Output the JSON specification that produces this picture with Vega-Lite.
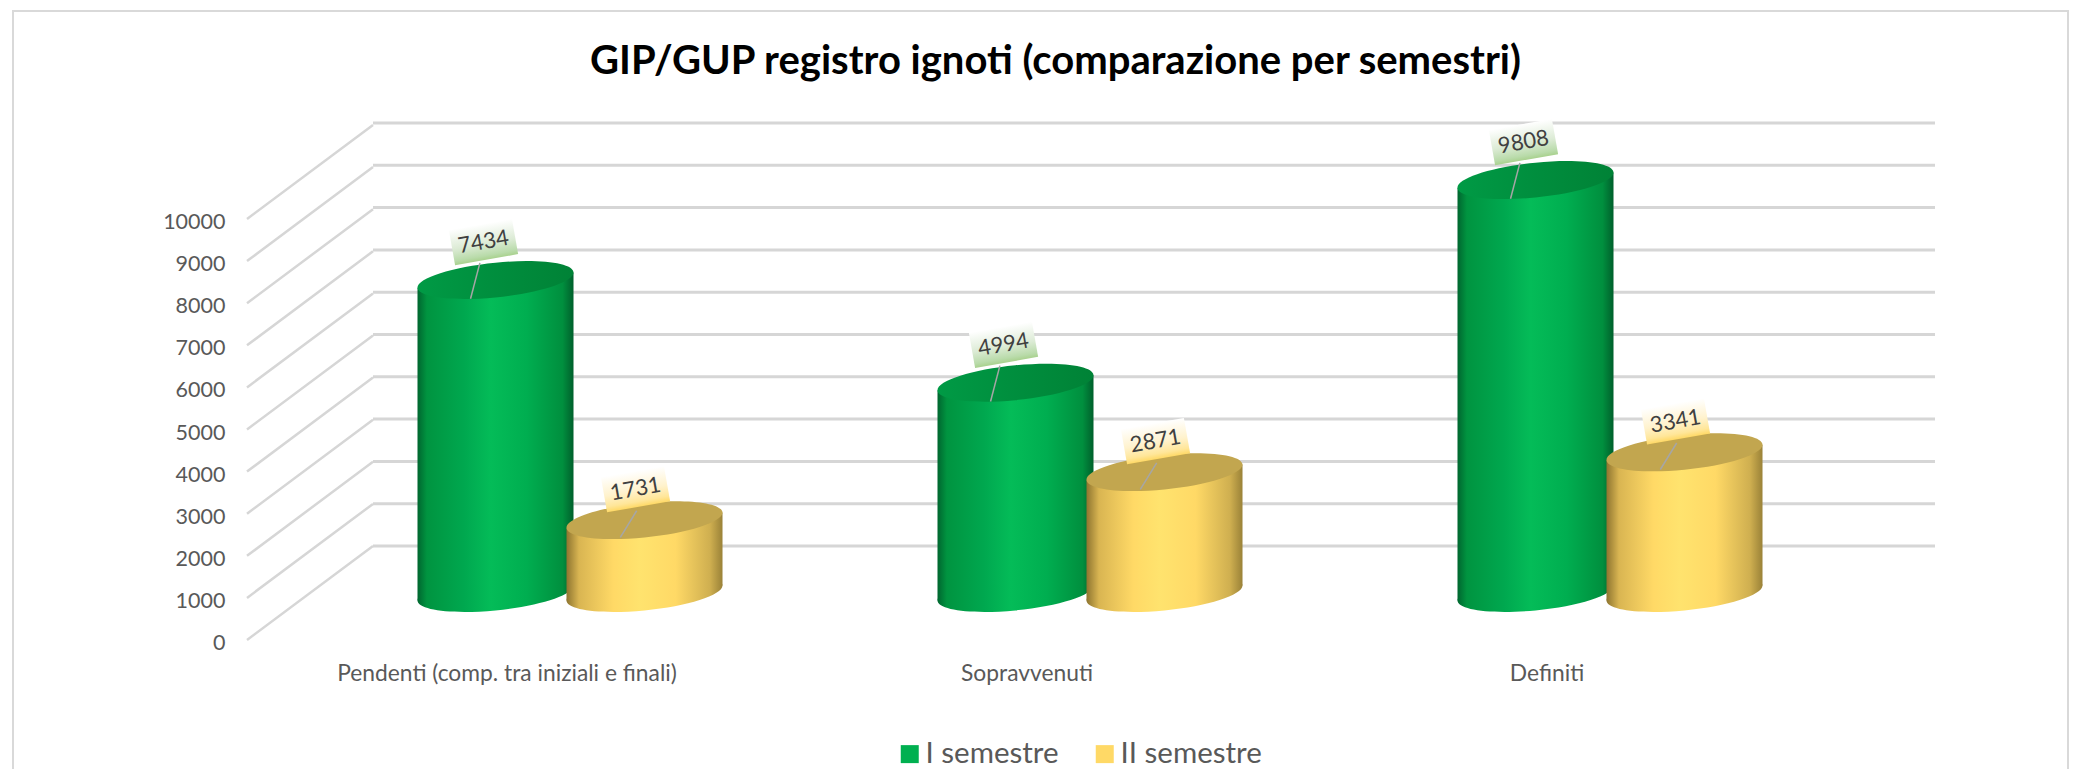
{
"$schema":"https://vega.github.io/schema/vega-lite/v6.json",
"width":2081,"height":769,"autosize":{"type":"none"},"padding":0,"background":"white",
"title":{"text":"GIP/GUP registro ignoti (comparazione per semestri)","font":"Lato","fontSize":40,"fontWeight":"bold","color":"#000000","anchor":"middle","frame":"group","baseline":"middle","offset":0,"dy":102,"dx":15},
"config":{"view":{"stroke":null},"font":"Lato"},
"datasets":{
"rows":[
{"categoria":"Pendenti (comp. tra iniziali e finali)","semestre":"I semestre","valore":7434},
{"categoria":"Pendenti (comp. tra iniziali e finali)","semestre":"II semestre","valore":1731},
{"categoria":"Sopravvenuti","semestre":"I semestre","valore":4994},
{"categoria":"Sopravvenuti","semestre":"II semestre","valore":2871},
{"categoria":"Definiti","semestre":"I semestre","valore":9808},
{"categoria":"Definiti","semestre":"II semestre","valore":3341}],
"ticks":[{"t":0},{"t":1000},{"t":2000},{"t":3000},{"t":4000},{"t":5000},{"t":6000},{"t":7000},{"t":8000},{"t":9000},{"t":10000}],
"frame":[{"frame":"chart"}]
},
"resolve":{"scale":{"x":"independent","y":"independent","color":"independent"}},
"layer":[
{"data":{"name":"frame"},"mark":{"type":"rect","fillOpacity":0,"stroke":"#D9D9D9","strokeWidth":2},
 "encoding":{"x":{"datum":0,"type":"quantitative","scale":{"domain":[0,1],"range":[13,2068]},"axis":null},"x2":{"datum":1},
 "y":{"datum":0,"type":"quantitative","scale":{"domain":[0,1],"range":[800,11]},"axis":null},"y2":{"datum":1}}},
{"data":{"name":"ticks"},"mark":{"type":"rule","color":"#D6D6D6","strokeWidth":3},
 "encoding":{"x":{"datum":0,"type":"quantitative","scale":{"domain":[0,1],"range":[373,1935]},"axis":null},"x2":{"datum":1},
 "y":{"field":"t","type":"quantitative","scale":{"domain":[0,10000],"range":[546,123]},"axis":null}}},
{"data":{"name":"ticks"},"mark":{"type":"point","shape":"M0,0L1,-0.746","size":63504,"filled":false,"opacity":1,"stroke":"#D6D6D6","strokeWidth":2.5},
 "encoding":{"x":{"datum":0,"type":"quantitative","scale":{"domain":[0,1],"range":[247,373]},"axis":null},
 "y":{"field":"t","type":"quantitative","scale":{"domain":[0,10000],"range":[640,219]},"axis":null}}},
{"data":{"name":"rows"},"mark":{"type":"bar","opacity":0,"size":20},
 "encoding":{
 "x":{"field":"categoria","type":"nominal","sort":null,"scale":{"type":"band","domain":["Pendenti (comp. tra iniziali e finali)","Sopravvenuti","Definiti"],"range":[247,1807],"paddingInner":0,"paddingOuter":0},
  "axis":{"title":null,"domain":false,"ticks":false,"labelAngle":0,"labelFont":"Lato","labelFontSize":22.8,"labelColor":"#595959","labelPadding":0,"offset":-96,"labelBaseline":"middle","labelLimit":600}},
 "y":{"field":"valore","type":"quantitative","stack":null,"scale":{"domain":[0,10000],"range":[640,219]},
  "axis":{"title":null,"domain":false,"ticks":false,"grid":false,"values":[0,1000,2000,3000,4000,5000,6000,7000,8000,9000,10000],"format":"d","labelFont":"Lato","labelFontSize":21.5,"labelColor":"#595959","labelPadding":0,"labelOffset":3.5,"offset":-225}},
 "color":{"field":"semestre","type":"nominal","scale":{"domain":["I semestre","II semestre"],"range":["#00B050","#FFD966"]},
  "legend":{"title":null,"orient":"none","legendX":895,"legendY":739,"direction":"horizontal","symbolType":"square","symbolSize":324,"symbolOpacity":1,"symbolStrokeWidth":0,"labelFont":"Lato","labelFontSize":29.5,"labelColor":"#595959","labelOffset":1,"columnPadding":31,"labelLimit":300}}}},

{"data":{"name":"rows"},"transform":[{"filter":"datum.semestre==='I semestre'"}],"mark":{"type":"point","shape":"M1,-0.097C1,0.026 .552,.169 0,.223C-.552,.277 -1,.22 -1,.097C-1,-.026 -.552,-.169 0,-.223C.552,-.277 1,-.22 1,-.097Z","size":24336,"filled":true,"opacity":1,"strokeWidth":0,
 "fill":{"x1":0,"y1":0,"x2":1,"y2":0,"gradient":"linear","stops":[{"offset":0,"color":"#00662F"},{"offset":0.06,"color":"#009440"},{"offset":0.3,"color":"#00A84F"},{"offset":0.47,"color":"#04BC58"},{"offset":0.7,"color":"#00AE50"},{"offset":0.93,"color":"#008F3E"},{"offset":1,"color":"#00602C"}]}},
 "encoding":{"x":{"field":"categoria","type":"nominal","sort":null,"scale":{"type":"band","domain":["Pendenti (comp. tra iniziali e finali)","Sopravvenuti","Definiti"],"range":[235.5,1795.5],"paddingInner":0,"paddingOuter":0},"axis":null},
 "y":{"datum":0,"type":"quantitative","scale":{"domain":[0,10000],"range":[593,172]},"axis":null}}},
{"data":{"name":"rows"},"transform":[{"filter":"datum.semestre==='I semestre'"}],"mark":{"type":"bar","size":105,"xOffset":-25.5,"yOffset":7.6,"y2Offset":7.6,
 "fill":{"x1":0,"y1":0,"x2":1,"y2":0,"gradient":"linear","stops":[{"offset":0,"color":"#00662F"},{"offset":0.089,"color":"#009440"},{"offset":0.446,"color":"#00A84F"},{"offset":0.698,"color":"#04BC58"},{"offset":1,"color":"#00B051"}]}},
 "encoding":{"x":{"field":"categoria","type":"nominal","sort":null,"scale":{"type":"band","domain":["Pendenti (comp. tra iniziali e finali)","Sopravvenuti","Definiti"],"range":[235.5,1795.5],"paddingInner":0,"paddingOuter":0},"axis":null},
 "y":{"field":"valore","type":"quantitative","stack":null,"scale":{"domain":[0,10000],"range":[593,172]},"axis":null},"y2":{"datum":0}}},
{"data":{"name":"rows"},"transform":[{"filter":"datum.semestre==='I semestre'"}],"mark":{"type":"bar","size":105,"xOffset":25.5,"yOffset":-7.6,"y2Offset":-7.6,
 "fill":{"x1":0,"y1":0,"x2":1,"y2":0,"gradient":"linear","stops":[{"offset":0,"color":"#01AB51"},{"offset":0.212,"color":"#04BC58"},{"offset":0.554,"color":"#00AE50"},{"offset":0.896,"color":"#008F3E"},{"offset":1,"color":"#00602C"}]}},
 "encoding":{"x":{"field":"categoria","type":"nominal","sort":null,"scale":{"type":"band","domain":["Pendenti (comp. tra iniziali e finali)","Sopravvenuti","Definiti"],"range":[235.5,1795.5],"paddingInner":0,"paddingOuter":0},"axis":null},
 "y":{"field":"valore","type":"quantitative","stack":null,"scale":{"domain":[0,10000],"range":[593,172]},"axis":null},"y2":{"datum":0}}},
{"data":{"name":"rows"},"transform":[{"filter":"datum.semestre==='I semestre'"}],"mark":{"type":"point","shape":"M1,-0.097C1,0.026 .552,.169 0,.223C-.552,.277 -1,.22 -1,.097C-1,-.026 -.552,-.169 0,-.223C.552,-.277 1,-.22 1,-.097Z","size":24336,"filled":true,"opacity":1,"strokeWidth":0,
 "fill":{"x1":0,"y1":0,"x2":1,"y2":0,"gradient":"linear","stops":[{"offset":0,"color":"#009A45"},{"offset":1,"color":"#008236"}]}},
 "encoding":{"x":{"field":"categoria","type":"nominal","sort":null,"scale":{"type":"band","domain":["Pendenti (comp. tra iniziali e finali)","Sopravvenuti","Definiti"],"range":[235.5,1795.5],"paddingInner":0,"paddingOuter":0},"axis":null},
 "y":{"field":"valore","type":"quantitative","stack":null,"scale":{"domain":[0,10000],"range":[593,172]},"axis":null}}},

{"data":{"name":"rows"},"transform":[{"filter":"datum.semestre==='II semestre'"}],"mark":{"type":"point","shape":"M1,-0.097C1,0.026 .552,.169 0,.223C-.552,.277 -1,.22 -1,.097C-1,-.026 -.552,-.169 0,-.223C.552,-.277 1,-.22 1,-.097Z","size":24336,"filled":true,"opacity":1,"strokeWidth":0,
 "fill":{"x1":0,"y1":0,"x2":1,"y2":0,"gradient":"linear","stops":[{"offset":0,"color":"#8E7530"},{"offset":0.08,"color":"#D9B552"},{"offset":0.3,"color":"#FFD966"},{"offset":0.47,"color":"#FFE36E"},{"offset":0.7,"color":"#FFD966"},{"offset":0.92,"color":"#CFAF50"},{"offset":1,"color":"#9A8238"}]}},
 "encoding":{"x":{"field":"categoria","type":"nominal","sort":null,"scale":{"type":"band","domain":["Pendenti (comp. tra iniziali e finali)","Sopravvenuti","Definiti"],"range":[384.5,1944.5],"paddingInner":0,"paddingOuter":0},"axis":null},
 "y":{"datum":0,"type":"quantitative","scale":{"domain":[0,10000],"range":[593,172]},"axis":null}}},
{"data":{"name":"rows"},"transform":[{"filter":"datum.semestre==='II semestre'"}],"mark":{"type":"bar","size":105,"xOffset":-25.5,"yOffset":7.6,"y2Offset":7.6,
 "fill":{"x1":0,"y1":0,"x2":1,"y2":0,"gradient":"linear","stops":[{"offset":0,"color":"#8E7530"},{"offset":0.119,"color":"#D9B552"},{"offset":0.446,"color":"#FFD966"},{"offset":0.698,"color":"#FFE36E"},{"offset":1,"color":"#FFDA67"}]}},
 "encoding":{"x":{"field":"categoria","type":"nominal","sort":null,"scale":{"type":"band","domain":["Pendenti (comp. tra iniziali e finali)","Sopravvenuti","Definiti"],"range":[384.5,1944.5],"paddingInner":0,"paddingOuter":0},"axis":null},
 "y":{"field":"valore","type":"quantitative","stack":null,"scale":{"domain":[0,10000],"range":[593,172]},"axis":null},"y2":{"datum":0}}},
{"data":{"name":"rows"},"transform":[{"filter":"datum.semestre==='II semestre'"}],"mark":{"type":"bar","size":105,"xOffset":25.5,"yOffset":-7.6,"y2Offset":-7.6,
 "fill":{"x1":0,"y1":0,"x2":1,"y2":0,"gradient":"linear","stops":[{"offset":0,"color":"#FFDB67"},{"offset":0.212,"color":"#FFE36E"},{"offset":0.554,"color":"#FFD966"},{"offset":0.881,"color":"#CFAF50"},{"offset":1,"color":"#9A8238"}]}},
 "encoding":{"x":{"field":"categoria","type":"nominal","sort":null,"scale":{"type":"band","domain":["Pendenti (comp. tra iniziali e finali)","Sopravvenuti","Definiti"],"range":[384.5,1944.5],"paddingInner":0,"paddingOuter":0},"axis":null},
 "y":{"field":"valore","type":"quantitative","stack":null,"scale":{"domain":[0,10000],"range":[593,172]},"axis":null},"y2":{"datum":0}}},
{"data":{"name":"rows"},"transform":[{"filter":"datum.semestre==='II semestre'"}],"mark":{"type":"point","shape":"M1,-0.097C1,0.026 .552,.169 0,.223C-.552,.277 -1,.22 -1,.097C-1,-.026 -.552,-.169 0,-.223C.552,-.277 1,-.22 1,-.097Z","size":24336,"filled":true,"opacity":1,"strokeWidth":0,"fill":"#C2A64F"},
 "encoding":{"x":{"field":"categoria","type":"nominal","sort":null,"scale":{"type":"band","domain":["Pendenti (comp. tra iniziali e finali)","Sopravvenuti","Definiti"],"range":[384.5,1944.5],"paddingInner":0,"paddingOuter":0},"axis":null},
 "y":{"field":"valore","type":"quantitative","stack":null,"scale":{"domain":[0,10000],"range":[593,172]},"axis":null}}},

{"data":{"name":"rows"},"transform":[{"filter":"datum.semestre==='I semestre'"}],"mark":{"type":"point","shape":"M-0.2,-0.22L-0.32,0.24","size":24336,"filled":false,"opacity":1,"stroke":"#A6A6A6","strokeWidth":1.5},
 "encoding":{"x":{"field":"categoria","type":"nominal","sort":null,"scale":{"type":"band","domain":["Pendenti (comp. tra iniziali e finali)","Sopravvenuti","Definiti"],"range":[235.5,1795.5],"paddingInner":0,"paddingOuter":0},"axis":null},
 "y":{"field":"valore","type":"quantitative","stack":null,"scale":{"domain":[0,10000],"range":[593,172]},"axis":null}}},
{"data":{"name":"rows"},"transform":[{"filter":"datum.semestre==='I semestre'"}],"mark":{"type":"point","shape":"M-1,-0.56L1,-0.56L1,0.56L-1,0.56Z","size":4096,"angle":-10,"filled":true,"opacity":1,"strokeWidth":0,"xOffset":-12,"yOffset":-38,
 "fill":{"x1":0,"y1":0,"x2":0,"y2":1,"gradient":"linear","stops":[{"offset":0,"color":"#FFFFFF"},{"offset":0.55,"color":"#DCEBD5"},{"offset":0.88,"color":"#B9DBAA"},{"offset":1,"color":"#A9D18E"}]}},
 "encoding":{"x":{"field":"categoria","type":"nominal","sort":null,"scale":{"type":"band","domain":["Pendenti (comp. tra iniziali e finali)","Sopravvenuti","Definiti"],"range":[235.5,1795.5],"paddingInner":0,"paddingOuter":0},"axis":null},
 "y":{"field":"valore","type":"quantitative","stack":null,"scale":{"domain":[0,10000],"range":[593,172]},"axis":null}}},
{"data":{"name":"rows"},"transform":[{"filter":"datum.semestre==='I semestre'"}],"mark":{"type":"text","font":"Lato","fontSize":22,"angle":-10,"color":"#404040","xOffset":-12,"yOffset":-38,"baseline":"middle","align":"center"},
 "encoding":{"x":{"field":"categoria","type":"nominal","sort":null,"scale":{"type":"band","domain":["Pendenti (comp. tra iniziali e finali)","Sopravvenuti","Definiti"],"range":[235.5,1795.5],"paddingInner":0,"paddingOuter":0},"axis":null},
 "y":{"field":"valore","type":"quantitative","stack":null,"scale":{"domain":[0,10000],"range":[593,172]},"axis":null},
 "text":{"field":"valore","type":"quantitative","format":"d"}}},
{"data":{"name":"rows"},"transform":[{"filter":"datum.semestre==='II semestre'"}],"mark":{"type":"point","shape":"M-0.1,-0.12L-0.31,0.22","size":24336,"filled":false,"opacity":1,"stroke":"#A6A6A6","strokeWidth":1.5},
 "encoding":{"x":{"field":"categoria","type":"nominal","sort":null,"scale":{"type":"band","domain":["Pendenti (comp. tra iniziali e finali)","Sopravvenuti","Definiti"],"range":[384.5,1944.5],"paddingInner":0,"paddingOuter":0},"axis":null},
 "y":{"field":"valore","type":"quantitative","stack":null,"scale":{"domain":[0,10000],"range":[593,172]},"axis":null}}},
{"data":{"name":"rows"},"transform":[{"filter":"datum.semestre==='II semestre'"}],"mark":{"type":"point","shape":"M-1,-0.56L1,-0.56L1,0.56L-1,0.56Z","size":4096,"angle":-10,"filled":true,"opacity":1,"strokeWidth":0,"xOffset":-9,"yOffset":-31,
 "fill":{"x1":0,"y1":0,"x2":0,"y2":1,"gradient":"linear","stops":[{"offset":0,"color":"#FFFFFF"},{"offset":0.55,"color":"#FFF2CC"},{"offset":0.85,"color":"#FFE699"},{"offset":1,"color":"#FFD966"}]}},
 "encoding":{"x":{"field":"categoria","type":"nominal","sort":null,"scale":{"type":"band","domain":["Pendenti (comp. tra iniziali e finali)","Sopravvenuti","Definiti"],"range":[384.5,1944.5],"paddingInner":0,"paddingOuter":0},"axis":null},
 "y":{"field":"valore","type":"quantitative","stack":null,"scale":{"domain":[0,10000],"range":[593,172]},"axis":null}}},
{"data":{"name":"rows"},"transform":[{"filter":"datum.semestre==='II semestre'"}],"mark":{"type":"text","font":"Lato","fontSize":22,"angle":-10,"color":"#404040","xOffset":-9,"yOffset":-31,"baseline":"middle","align":"center"},
 "encoding":{"x":{"field":"categoria","type":"nominal","sort":null,"scale":{"type":"band","domain":["Pendenti (comp. tra iniziali e finali)","Sopravvenuti","Definiti"],"range":[384.5,1944.5],"paddingInner":0,"paddingOuter":0},"axis":null},
 "y":{"field":"valore","type":"quantitative","stack":null,"scale":{"domain":[0,10000],"range":[593,172]},"axis":null},
 "text":{"field":"valore","type":"quantitative","format":"d"}}}
]}
